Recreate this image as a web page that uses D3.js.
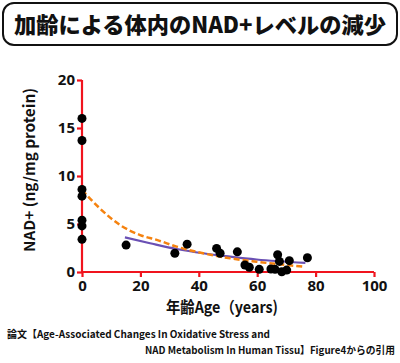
<!DOCTYPE html>
<html>
<head>
<meta charset="utf-8">
<script src="https://cdn.jsdelivr.net/npm/d3@7"></script>
<style>
  body { margin: 0; background: #fff; }
  svg { display: block; font-family: "Noto Sans CJK JP", "Open Sans", sans-serif; font-weight: bold; }
</style>
</head>
<body>
<svg id="chart" width="400" height="363"></svg>
<script>
// NAD+ level vs age

var ages   = [0, 0, 0, 0, 0, 0, 0, 15.1, 31.8, 36, 46.1, 47.3, 53.2, 55.8, 57.3, 60.7, 64.7, 66.1, 67, 67.6, 68.4, 70.1, 71, 77.2];
var levels = [16.0, 13.7, 8.6, 7.9, 5.4, 4.8, 3.4, 2.8, 1.95, 2.9, 2.46, 1.95, 2.1, 0.73, 0.49, 0.28, 0.31, 0.28, 1.8, 1.1, 0.03, 0.2, 1.18, 1.49];

// dashed orange fit
var fitAgeA = [0, 6.2, 13, 19.9, 26.1, 32.4, 41.5, 50.7, 59.8, 76];
var fitValA = [8.55, 6.6, 4.9, 3.85, 3.3, 2.64, 1.95, 1.43, 1.07, 0.55];

// solid purple fit
var fitAgeB = [14.7, 23.3, 32.4, 41.5, 50.7, 59.8, 76.5];
var fitValB = [3.6, 3.0, 2.4, 1.95, 1.6, 1.3, 0.95];

var xTicks = [0, 20, 40, 60, 80, 100];
var yTicks = [0, 5, 10, 15, 20];

var svg = d3.select("#chart");
var red = "#f0141e";

// title box
svg.append("rect")
    .attr("x", 3).attr("y", 3)
    .attr("width", 394).attr("height", 42)
    .attr("rx", 11)
    .attr("fill", "#fff")
    .attr("stroke", "#111")
    .attr("stroke-width", 2);
svg.append("text")
    .attr("x", 200).attr("y", 33)
    .attr("text-anchor", "middle")
    .attr("font-size", 22)
    .attr("font-weight", 900)
    .attr("textLength", 372)
    .attr("lengthAdjust", "spacingAndGlyphs")
    .attr("fill", "#111")
    .text("加齢による体内のNAD+レベルの減少");

var xScale = d3.scaleLinear().domain([0, 100]).range([82, 374]);
var yScale = d3.scaleLinear().domain([0, 20]).range([272, 80]);

// axes
var xAxis = d3.axisBottom(xScale).tickValues(xTicks).tickSize(5).tickPadding(3);
var yAxis = d3.axisLeft(yScale).tickValues(yTicks).tickSize(5).tickPadding(2);

var gx = svg.append("g").attr("transform", "translate(0," + yScale(0) + ")").call(xAxis);
var gy = svg.append("g").attr("transform", "translate(" + xScale(0) + ",0)").call(yAxis);

[gx, gy].forEach(function(g) {
    g.select(".domain").attr("stroke", red).attr("stroke-width", 2.2);
    g.selectAll(".tick line").attr("stroke", red).attr("stroke-width", 2.2);
    g.selectAll(".tick text")
        .attr("fill", "#111")
        .attr("font-size", 15)
        .attr("font-family", "'Open Sans', sans-serif")
        .attr("font-weight", "bold");
});
gx.select(".domain").attr("d", "M" + xScale(0) + ",0H" + xScale(100));
gy.select(".domain").attr("d", "M0," + yScale(0) + "V" + yScale(20));

// fitted curves
var line = d3.line()
    .curve(d3.curveMonotoneX)
    .x(function(d) { return xScale(d[0]); })
    .y(function(d) { return yScale(d[1]); });

svg.append("path")
    .datum(fitAgeB.map(function(a, i) { return [a, fitValB[i]]; }))
    .attr("d", line)
    .attr("fill", "none")
    .attr("stroke", "#6a50b4")
    .attr("stroke-width", 2.2);

svg.append("path")
    .datum(fitAgeA.map(function(a, i) { return [a, fitValA[i]]; }))
    .attr("d", line)
    .attr("fill", "none")
    .attr("stroke", "#f5820f")
    .attr("stroke-width", 2.5)
    .attr("stroke-dasharray", "6,3");

// points
svg.selectAll(".pt")
    .data(ages.map(function(a, i) { return [a, levels[i]]; }))
  .enter().append("circle")
    .attr("class", "pt")
    .attr("cx", function(d) { return xScale(d[0]); })
    .attr("cy", function(d) { return yScale(d[1]); })
    .attr("r", 4.5)
    .attr("fill", "#000");

// axis titles
svg.append("text")
    .attr("transform", "translate(35,170) rotate(-90)")
    .attr("text-anchor", "middle")
    .attr("font-size", 15)
    .attr("textLength", 164)
    .attr("lengthAdjust", "spacingAndGlyphs")
    .attr("fill", "#111")
    .text("NAD+ (ng/mg protein)");

svg.append("text")
    .attr("x", 222).attr("y", 313)
    .attr("text-anchor", "middle")
    .attr("font-size", 16)
    .attr("textLength", 112)
    .attr("lengthAdjust", "spacingAndGlyphs")
    .attr("fill", "#111")
    .text("年齢Age（years)");

// citation
svg.append("text")
    .attr("x", 7).attr("y", 338)
    .attr("font-size", 10)
    .attr("textLength", 263)
    .attr("lengthAdjust", "spacingAndGlyphs")
    .attr("fill", "#111")
    .text("論文【Age-Associated Changes In Oxidative Stress and");

svg.append("text")
    .attr("x", 145).attr("y", 354)
    .attr("font-size", 10)
    .attr("textLength", 250)
    .attr("lengthAdjust", "spacingAndGlyphs")
    .attr("fill", "#111")
    .text("NAD Metabolism In Human Tissu】Figure4からの引用");
</script>
</body>
</html>
